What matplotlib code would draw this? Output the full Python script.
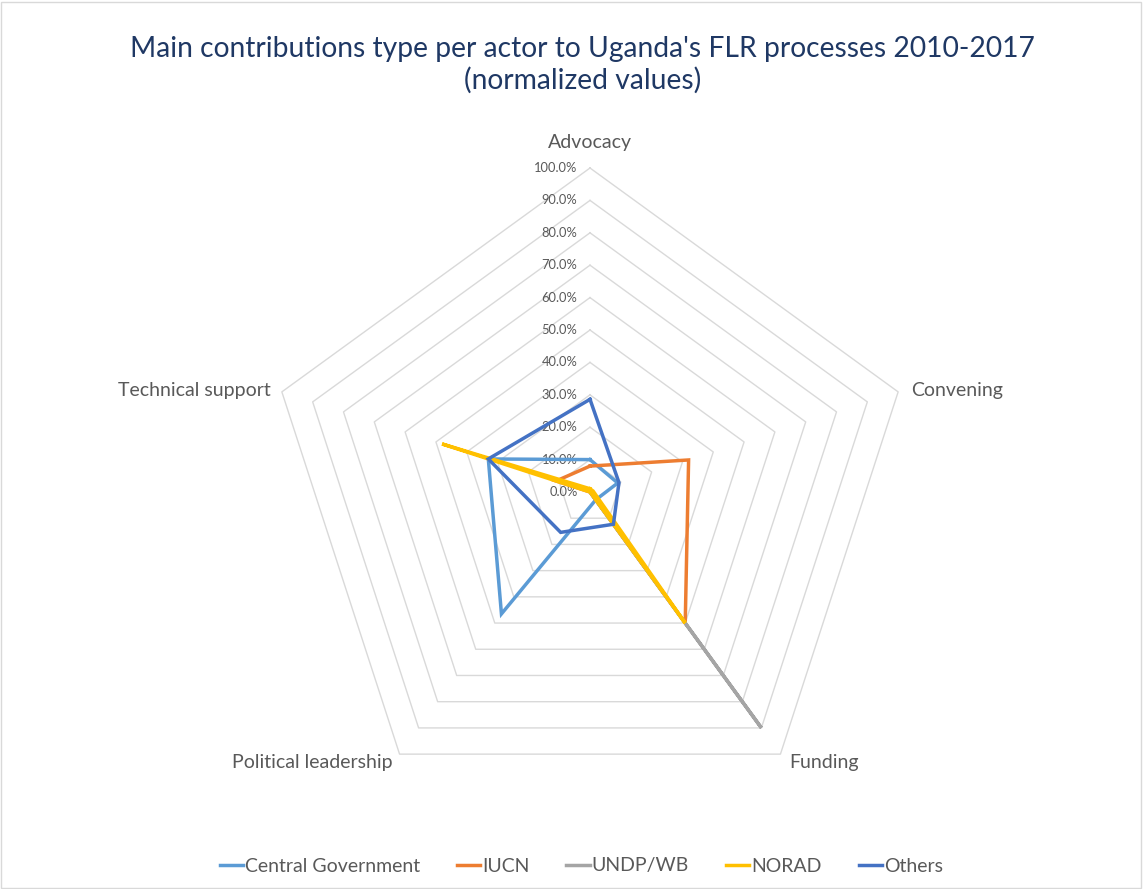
import numpy as np
import matplotlib
matplotlib.use("Agg")
import matplotlib.pyplot as plt
from matplotlib.patches import Rectangle

plt.rcParams['font.family'] = ['Lato', 'DejaVu Sans']

# contribution share per actor (normalized)
categories = ["Advocacy", "Convening", "Funding", "Political leadership", "Technical support"]
central_gov = [0.10, 0.09, 0.03, 0.465, 0.33]
iucn = [0.08, 0.32, 0.50, 0.0, 0.11]
undp_wb = [0.0, 0.0, 0.90, 0.0, 0.0]
norad = [0.01, 0.01, 0.50, 0.0, 0.48]
others = [0.286, 0.094, 0.123, 0.154, 0.33]

series_names = ["Central Government", "IUCN", "UNDP/WB", "NORAD", "Others"]
series_values = [central_gov, iucn, undp_wb, norad, others]
series_colors = ["#5B9BD5", "#ED7D31", "#A5A5A5", "#FFC000", "#4472C4"]
ring_levels = [0.1 * i for i in range(11)]

W, H = 1144, 889
fig = plt.figure(figsize=(W / 100, H / 100), dpi=100)
fig.patch.set_facecolor("white")

# radar centred at (590, 492) px, radius 324 px
cx, cy, R = 590, 492, 324
ax = fig.add_axes([(cx - R) / W, 1 - (cy + R) / H, 2 * R / W, 2 * R / H], projection="polar")
ax.set_theta_zero_location("N")
ax.set_theta_direction(-1)
ax.set_ylim(0, 1)
ax.grid(False)
ax.set_xticks([])
ax.set_yticks([])
ax.spines["polar"].set_visible(False)
ax.patch.set_alpha(0)

n = len(categories)
angles = np.linspace(0, 2 * np.pi, n, endpoint=False)
closed = np.append(angles, angles[0])

# pentagon gridlines
for lvl in ring_levels[1:]:
    ax.plot(closed, [lvl] * (n + 1), color="#D9D9D9", lw=1.0, zorder=1, clip_on=False)

# value labels along the Advocacy axis
for lvl in ring_levels:
    ax.annotate(f"{lvl * 100:.1f}%", xy=(0, lvl), xytext=(-9, 0), textcoords="offset points",
                ha="right", va="center", fontsize=9.3, color="#595959", annotation_clip=False)

# category labels
label_pos = [((0, 12), "center", "bottom"),
             ((9, 1), "left", "center"),
             ((6, -6), "left", "center"),
             ((-5, -6), "right", "center"),
             ((-8, 1), "right", "center")]
for ang, name, (off, ha, va) in zip(angles, categories, label_pos):
    ax.annotate(name, xy=(ang, 1.0), xytext=off, textcoords="offset points",
                ha=ha, va=va, fontsize=14, color="#595959", annotation_clip=False)

handles = []
for name, vals, col in zip(series_names, series_values, series_colors):
    ln, = ax.plot(closed, vals + vals[:1], color=col, lw=2.5, label=name, zorder=3,
                  solid_joinstyle="miter", clip_on=False)
    handles.append(ln)

fig.text(0.509, 1 - 65 / H, "Main contributions type per actor to Uganda's FLR processes 2010-2017\n(normalized values)",
         ha="center", va="center", fontsize=20.3, color="#1F3864", linespacing=1.25)

fig.legend(handles=handles, labels=series_names, loc="center", bbox_to_anchor=(0.508, 1 - 866 / H),
           ncol=5, frameon=False, fontsize=14, handlelength=1.2, handletextpad=0.1,
           columnspacing=1.9, labelcolor="#595959")

fig.patches.append(Rectangle((0.001, 0.001), 0.996, 0.997, transform=fig.transFigure,
                             fill=False, edgecolor="#D9D9D9", lw=1))

fig.savefig("out.png", dpi=100)
